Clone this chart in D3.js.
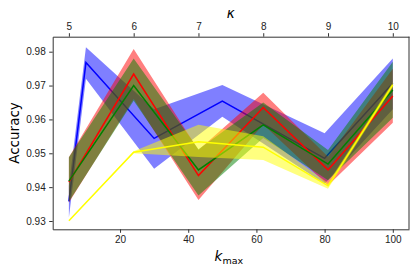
<!DOCTYPE html>
<html>
<head>
<meta charset="utf-8">
<script src="https://cdn.jsdelivr.net/npm/d3@7"></script>
<style>
  body { margin: 0; background: #fff; }
  svg { display: block; font-family: "DejaVu Sans", sans-serif; }
</style>
</head>
<body>
<svg id="chart"></svg>
<script>
// k_max positions of each series
const blueK = [5, 10, 30, 50, 80, 100]
const otherK = [5, 24, 43, 62, 81, 100]

// mean accuracy and band (low, high) per series
const blueMean = [0.9358, 0.9768, 0.9544, 0.9654, 0.9485, 0.9707]
const blueLow = [0.9310, 0.9720, 0.9454, 0.9608, 0.9410, 0.9630]
const blueHigh = [0.9405, 0.9813, 0.9630, 0.9702, 0.9559, 0.9780]

const redMean = [0.9415, 0.9734, 0.9434, 0.9635, 0.9451, 0.9669]
const redLow = [0.9355, 0.9660, 0.9362, 0.9585, 0.9405, 0.9590]
const redHigh = [0.9488, 0.9808, 0.9510, 0.9679, 0.9490, 0.9750]

const greenMean = [0.9418, 0.9700, 0.9451, 0.9584, 0.9468, 0.9687]
const greenLow = [0.9357, 0.9655, 0.9375, 0.9545, 0.9420, 0.9605]
const greenHigh = [0.9488, 0.9780, 0.9512, 0.9650, 0.9510, 0.9770]

const yellowMean = [0.9301, 0.9503, 0.9534, 0.9518, 0.9404, 0.9702]
const yellowLow = [0.9301, 0.9500, 0.9489, 0.9480, 0.9395, 0.9695]
const yellowHigh = [0.9301, 0.9506, 0.9584, 0.9550, 0.9412, 0.9710]

const kappaTicks = [5, 6, 7, 8, 9, 10]
const kTicks = [20, 40, 60, 80, 100]
const accTicks = [0.93, 0.94, 0.95, 0.96, 0.97, 0.98]

const w = 416
const h = 271
const margin = { top: 36.7, right: 7, bottom: 41.7, left: 52.7 }

const svg = d3.select('#chart')
  .attr('width', w)
  .attr('height', h)

const xScale = d3.scaleLinear()
  .domain([0.25, 104.75])
  .range([margin.left, w - margin.right])

const kappaScale = d3.scaleLinear()
  .domain([4.75, 10.25])
  .range([margin.left, w - margin.right])

const yScale = d3.scaleLinear()
  .domain([0.92755, 0.98443])
  .range([h - margin.bottom, margin.top])

const rows = (ks, mean, low, high) => ks.map((k, i) => ({ k, m: mean[i], lo: low[i], hi: high[i] }))

const area = d3.area()
  .x(d => xScale(d.k))
  .y0(d => yScale(d.lo))
  .y1(d => yScale(d.hi))

const line = d3.line()
  .x(d => xScale(d.k))
  .y(d => yScale(d.m))

const plot = svg.append('g')

function band(data, color) {
  plot.append('path')
    .datum(data)
    .attr('d', area)
    .attr('fill', color)
    .attr('fill-opacity', 0.5)
}
function curve(data, color) {
  plot.append('path')
    .datum(data)
    .attr('d', line)
    .attr('fill', 'none')
    .attr('stroke', color)
    .attr('stroke-width', 1.5)
}

const blue = rows(blueK, blueMean, blueLow, blueHigh)
const red = rows(otherK, redMean, redLow, redHigh)
const green = rows(otherK, greenMean, greenLow, greenHigh)
const yellow = rows(otherK, yellowMean, yellowLow, yellowHigh)

band(blue, 'blue')
curve(blue, 'blue')
band(red, 'red')
band(green, 'green')
curve(red, 'red')
curve(green, 'green')
band(yellow, 'yellow')
curve(yellow, '#ffff00')

// axes
const axisColor = '#333'
const styleAxis = g => {
  g.selectAll('path').attr('stroke', axisColor).attr('stroke-width', 1)
  g.selectAll('line').attr('stroke', axisColor)
  g.selectAll('text').attr('fill', '#222').style('font-size', '10px')
}

svg.append('g')
  .attr('transform', `translate(0, ${h - margin.bottom})`)
  .call(d3.axisBottom(xScale).tickValues(kTicks).tickSize(3.5).tickSizeOuter(0).tickPadding(3.5))
  .call(styleAxis)

svg.append('g')
  .attr('transform', `translate(${margin.left}, 0)`)
  .call(d3.axisLeft(yScale).tickValues(accTicks).tickFormat(d3.format('.2f')).tickSize(3.5).tickSizeOuter(0).tickPadding(3.5))
  .call(styleAxis)

svg.append('g')
  .attr('transform', `translate(0, ${margin.top})`)
  .call(d3.axisTop(kappaScale).tickValues(kappaTicks).tickFormat(d3.format('d')).tickSize(3.5).tickSizeOuter(0).tickPadding(3.5))
  .call(styleAxis)

// right spine
svg.append('line')
  .attr('x1', w - margin.right).attr('x2', w - margin.right)
  .attr('y1', margin.top).attr('y2', h - margin.bottom)
  .attr('stroke', axisColor)

// labels
svg.append('text')
  .attr('transform', `translate(14, ${(margin.top + h - margin.bottom) / 2}) rotate(-90)`)
  .attr('text-anchor', 'middle')
  .attr('dominant-baseline', 'central')
  .style('font-size', '13.5px')
  .text('Accuracy')

const kl = svg.append('text')
  .attr('x', (margin.left + w - margin.right) / 2 - 2)
  .attr('y', 261)
  .attr('text-anchor', 'middle')
  .style('font-size', '13.5px')
kl.append('tspan').style('font-style', 'italic').text('k')
kl.append('tspan').attr('dy', 3).style('font-size', '9.5px').text('max')

svg.append('text')
  .attr('x', kappaScale(7.5))
  .attr('y', 13)
  .attr('text-anchor', 'middle')
  .attr('dominant-baseline', 'central')
  .style('font-size', '13.5px')
  .style('font-style', 'italic')
  .text('κ')
</script>
</body>
</html>
